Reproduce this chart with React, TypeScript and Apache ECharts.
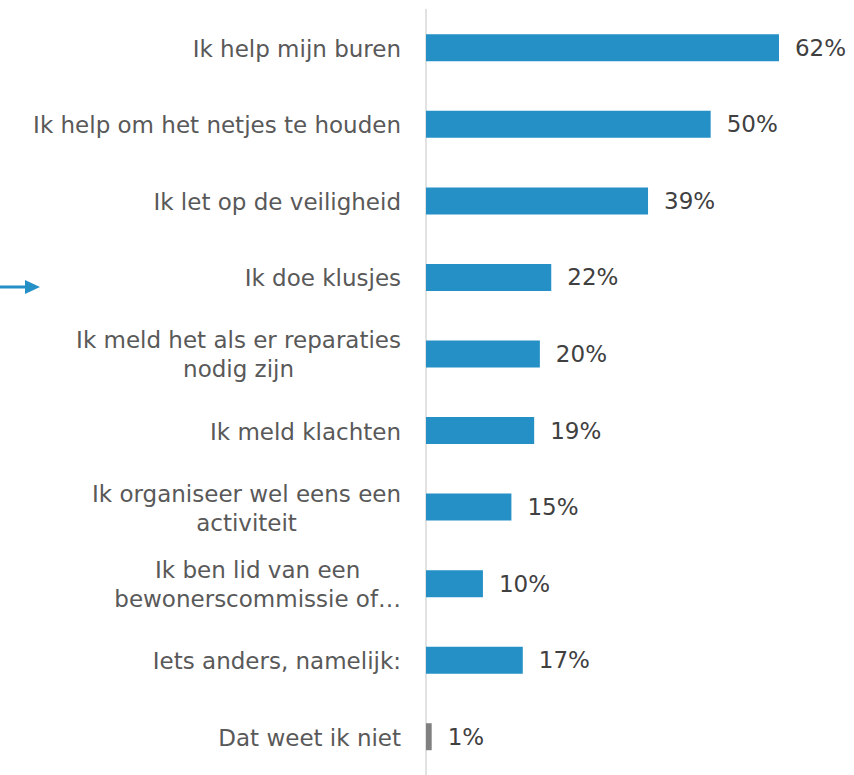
import React, { useEffect, useRef } from "react";
import * as echarts from "echarts";

const categories = [
  "Ik help mijn buren",
  "Ik help om het netjes te houden",
  "Ik let op de veiligheid",
  "Ik doe klusjes",
  "Ik meld het als er reparaties\nnodig zijn",
  "Ik meld klachten",
  "Ik organiseer wel eens een\nactiviteit",
  "Ik ben lid van een\nbewonerscommissie of…",
  "Iets anders, namelijk:",
  "Dat weet ik niet",
];
const values = [62, 50, 39, 22, 20, 19, 15, 10, 17, 1];
const barColors = ["#2590C5", "#2590C5", "#2590C5", "#2590C5", "#2590C5", "#2590C5", "#2590C5", "#2590C5", "#2590C5", "#808080"];

const FONT = "DejaVu Sans";

export default function App() {
  const ref = useRef<HTMLDivElement>(null);
  useEffect(() => {
    if (!ref.current) return;
    const chart = echarts.init(ref.current, null, { renderer: "svg" });
    chart.setOption({
      animation: false,
      grid: { left: 426, top: 9.5, height: 770, width: 427, containLabel: false },
      xAxis: {
        type: "value",
        min: 0,
        max: 75,
        show: false,
      },
      yAxis: {
        type: "category",
        inverse: true,
        data: categories,
        axisLine: { show: true, lineStyle: { color: "#D9D9D9", width: 1.5 } },
        axisTick: { show: false },
        splitLine: { show: false },
        axisLabel: {
          margin: 25,
          formatter: (v: string) =>
            v
              .split("\n")
              .map((l) => `{c|${l}}`)
              .join("\n"),
          rich: {
            c: {
              align: "center",
              fontFamily: FONT,
              fontSize: 23,
              color: "#595959",
              lineHeight: 29,
              padding: [2, 0, 0, 0],
            },
          },
        },
      },
      graphic: [
        {
          type: "line",
          shape: { x1: 0, y1: 287, x2: 27, y2: 287 },
          style: { stroke: "#2590C5", lineWidth: 3 },
        },
        {
          type: "polygon",
          shape: { points: [[25, 280], [40, 287], [25, 294]] },
          style: { fill: "#2590C5" },
        },
      ],
      series: [
        {
          type: "bar",
          barWidth: 27,
          data: values.map((v, i) => ({ value: v, itemStyle: { color: barColors[i] } })),
          label: {
            show: true,
            position: "right",
            distance: 16,
            formatter: "{c}%",
            fontFamily: FONT,
            fontSize: 23,
            color: "#404040",
            padding: [4, 0, 0, 0],
          },
        },
      ],
    });
    return () => chart.dispose();
  }, []);
  return (
    <div
      ref={ref}
      style={{ position: "absolute", left: 0, top: 0, width: 854, height: 775 }}
    />
  );
}
